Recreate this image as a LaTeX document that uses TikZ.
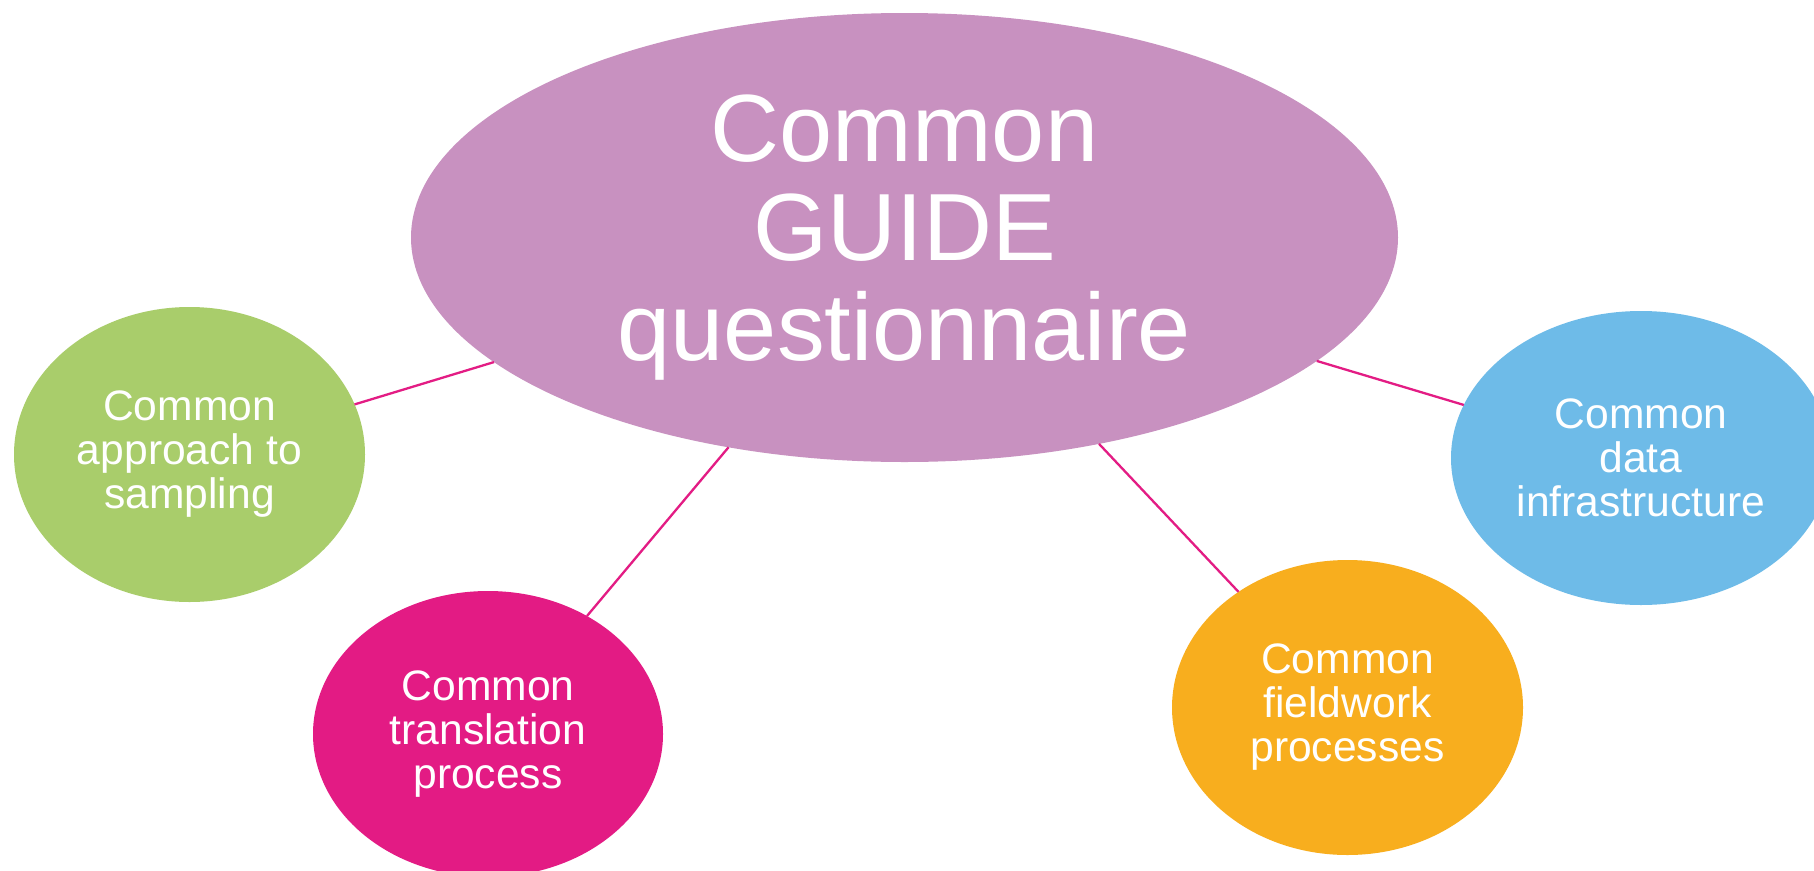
\documentclass[tikz,border=0pt]{standalone}
\usepackage{fontspec}
\setmainfont{Liberation Sans}
\usetikzlibrary{shapes.geometric}
\definecolor{cmauve}{RGB}{200,145,192}
\definecolor{cgreen}{RGB}{169,205,107}
\definecolor{cmag}{RGB}{227,27,132}
\definecolor{corange}{RGB}{248,174,30}
\definecolor{cblue}{RGB}{110,187,232}
\definecolor{cline}{RGB}{227,28,132}
\tikzset{
  bubble/.style={ellipse, inner sep=0pt, outer sep=0pt, text=white, align=center,
    font=\fontsize{42.6pt}{44pt}\selectfont},
  bigbubble/.style={ellipse, inner sep=0pt, outer sep=0pt, text=white, align=center,
    font=\fontsize{95.5pt}{99.5pt}\selectfont},
  link/.style={draw=cline, line width=2.3pt}
}
\begin{document}
\begin{tikzpicture}[x=1pt,y=-1pt]
\clip (0,0) rectangle (1814,870);
\fill[white] (0,0) rectangle (1814,870);
\node[bigbubble, fill=cmauve, minimum width=987pt, minimum height=449pt] (guide) at (904.5,237.5) {Common\\GUIDE\\questionnaire};
\node[bubble, fill=cgreen, minimum width=351pt, minimum height=295pt] (samp) at (189.5,454.5) {Common\\approach to\\sampling};
\node[bubble, fill=cmag, minimum width=350pt, minimum height=286pt] (trans) at (488,734) {Common\\translation\\process};
\node[bubble, fill=corange, minimum width=351pt, minimum height=295pt] (field) at (1347.5,707.5) {Common\\fieldwork\\processes};
\node[bubble, fill=cblue, minimum width=380pt, minimum height=294pt] (data) at (1641,458) {Common\\data\\infrastructure};
\draw[link] (guide) -- (samp);
\draw[link] (guide) -- (trans);
\draw[link] (guide) -- (field);
\draw[link] (guide) -- (data);
\end{tikzpicture}
\end{document}
